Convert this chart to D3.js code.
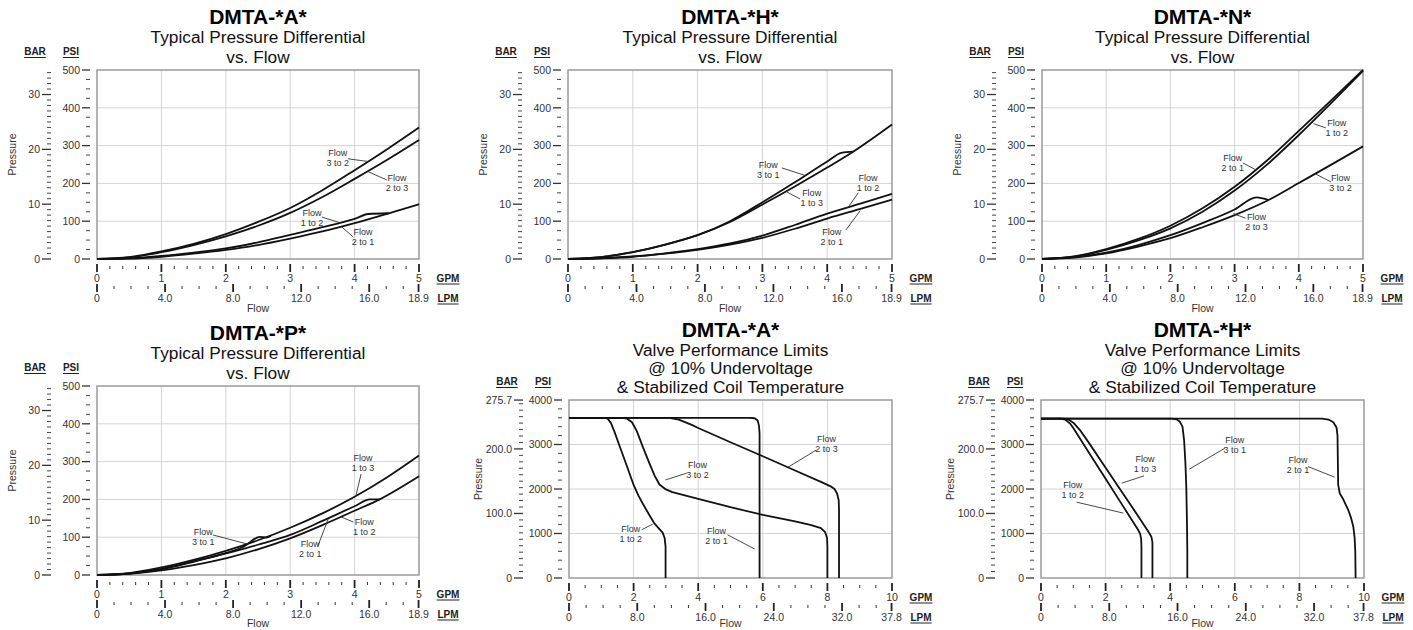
<!DOCTYPE html>
<html>
<head>
<meta charset="utf-8">
<script src="https://cdn.jsdelivr.net/npm/d3@7"></script>
<style>
  body { margin: 0; background: #fff; }
  svg text { font-family: "Liberation Sans", Arial, Helvetica, sans-serif; }
</style>
</head>
<body>
<svg id="chart" width="1413" height="630"></svg>
<script>

// unit conversions
var PSI_PER_BAR = 14.5038
var LPM_PER_GPM = 3.7854

// tick values / labels
var gpmTicks5 = [0, 1, 2, 3, 4, 5]
var lpmTicks5 = [0, 4, 8, 12, 16, 18.9]
var lpmLabels5 = ["0", "4.0", "8.0", "12.0", "16.0", "18.9"]
var psiTicks500 = [0, 100, 200, 300, 400, 500]
var barTicks500 = [0, 10, 20, 30]
var barLabels500 = ["0", "10", "20", "30"]

var gpmTicks10 = [0, 2, 4, 6, 8, 10]
var lpmTicks10 = [0, 8, 16, 24, 32, 37.8]
var lpmLabels10 = ["0", "8.0", "16.0", "24.0", "32.0", "37.8"]
var psiTicks4000 = [0, 1000, 2000, 3000, 4000]
var barTicks4000 = [0, 100, 200, 275.7]
var barLabels4000 = ["0", "100.0", "200.0", "275.7"]

// DMTA-*A*  pressure differential  [gpm, psi]
var a_3to2 = [[0,0],[0.5,5],[1,20],[1.5,40],[2,66],[2.5,98],[3,135],[3.5,182],[4,235],[4.5,290],[5,348]]
var a_2to3 = [[0,0],[0.5,4],[1,18],[1.5,37],[2,60],[2.5,88],[3,122],[3.5,164],[4,212],[4.5,262],[5,315]]
var a_1to2 = [[0,0],[0.5,2],[1,8],[1.5,17],[2,28],[2.5,44],[3,64],[3.5,84],[4,106],[4.21,119],[4.53,121]]
var a_2to1 = [[0,0],[0.5,1],[1,6],[1.5,14],[2,24],[2.5,37],[3,54],[3.5,73],[4,95],[4.53,121],[5,145]]

// DMTA-*H*  pressure differential
var h_3to1 = [[0,0],[0.5,5],[1,18],[1.5,38],[2,63],[2.5,100],[3,150],[3.5,203],[4,258],[4.22,281],[4.4,284]]
var h_1to3 = [[0,0],[0.5,5],[1,18],[1.5,38],[2,63],[2.5,98],[3,144],[3.5,192],[4,242],[4.4,284],[5,356]]
var h_1to2 = [[0,0],[0.5,2],[1,7],[1.5,15],[2,26],[2.5,41],[3,62],[3.5,90],[4,120],[4.5,146],[5,172]]
var h_2to1 = [[0,0],[0.5,2],[1,6],[1.5,14],[2,24],[2.5,38],[3,56],[3.5,80],[4,107],[4.5,132],[5,157]]

// DMTA-*N*  pressure differential
var n_2to1 = [[0,0],[0.5,7],[1,26],[1.5,53],[2,88],[2.5,134],[3,191],[3.5,260],[4,339],[4.5,419],[5,500]]
var n_1to2 = [[0,0],[0.5,6],[1,24],[1.5,49],[2,81],[2.5,125],[3,181],[3.5,249],[4,328],[4.5,412],[5,498]]
var n_2to3 = [[0,0],[0.5,5],[1,17],[1.5,37],[2,63],[2.5,95],[3,131],[3.34,163],[3.53,156]]
var n_3to2 = [[0,0],[0.5,4],[1,15],[1.5,33],[2,55],[2.5,84],[3,116],[3.53,156],[4,201],[4.5,249],[5,298]]

// DMTA-*P*  pressure differential
var p_1to3 = [[0,0],[0.5,5],[1,20],[1.5,40],[2,64],[2.5,92],[3,125],[3.5,163],[4,207],[4.5,258],[5,316]]
var p_3to1 = [[0,0],[0.5,4],[1,16],[1.5,36],[2,58],[2.27,74],[2.53,101],[2.63,99],[2.7,104]]
var p_2to1 = [[0,0],[0.5,4],[1,15],[1.5,35],[2,57],[2.5,80],[3,106],[3.5,143],[4,182],[4.24,200],[4.39,200]]
var p_1to2 = [[0,0],[0.5,3],[1,12],[1.5,26],[2,44],[2.5,68],[3,97],[3.5,132],[4,170],[4.39,200],[5,261]]

// DMTA-*A*  valve performance limits
var pa_1to2 = [[0,3600],[1.1,3600],[1.2,3580],[1.3,3480],[1.4,3300],[1.6,2900],[1.8,2500],[2.0,2090],[2.15,1850],[2.3,1650],[2.5,1400],[2.65,1220],[2.8,1100],[2.9,1020],[2.96,900],[2.99,700],[2.99,0]]
var pa_3to2 = [[0,3600],[1.65,3600],[1.8,3580],[1.95,3500],[2.1,3300],[2.3,2920],[2.5,2560],[2.65,2300],[2.8,2100],[3.0,1990],[3.2,1930],[4,1780],[5,1590],[6,1420],[7,1270],[7.5,1190],[7.8,1120],[7.93,1030],[7.99,900],[8.0,700],[8.0,0]]
var pa_2to1 = [[0,3600],[5.6,3600],[5.75,3590],[5.84,3540],[5.88,3430],[5.9,3250],[5.9,0]]
var pa_2to3 = [[0,3600],[3.1,3600],[3.4,3560],[3.8,3440],[4,3370],[5,3050],[6,2735],[7,2415],[7.8,2160],[8.1,2060],[8.22,2000],[8.3,1900],[8.35,1750],[8.36,1500],[8.36,0]]

// DMTA-*H*  valve performance limits
var ph_1to2 = [[0,3580],[0.6,3580],[0.75,3560],[0.9,3470],[1.0,3370],[1.5,2800],[2.0,2230],[2.5,1660],[3.0,1090],[3.07,990],[3.1,880],[3.11,700],[3.11,0]]
var ph_1to3 = [[0,3580],[0.7,3580],[0.85,3560],[1.0,3490],[1.2,3330],[1.5,3020],[2.0,2480],[2.5,1940],[3.0,1400],[3.35,1010],[3.42,920],[3.45,800],[3.45,0]]
var ph_3to1 = [[0,3580],[4.05,3580],[4.2,3565],[4.3,3510],[4.38,3400],[4.43,3100],[4.47,2600],[4.5,2000],[4.52,1200],[4.53,600],[4.53,0]]
var ph_2to1 = [[0,3580],[8.7,3580],[8.9,3560],[9.05,3500],[9.15,3380],[9.18,3200],[9.2,2100],[9.25,1900],[9.35,1780],[9.5,1550],[9.6,1350],[9.67,1150],[9.71,900],[9.73,600],[9.74,0]]


var svg = d3.select("#chart")

function underlined(sel, x, y, txt, size) {
    var t = sel.append("text")
        .attr("x", x).attr("y", y)
        .attr("text-anchor", "middle")
        .attr("font-size", size + "px")
        .attr("font-weight", "bold")
        .attr("fill", "#222")
        .text(txt)
    var w = t.node().getComputedTextLength()
    sel.append("line")
        .attr("x1", x - w / 2).attr("x2", x + w / 2)
        .attr("y1", y + 2.5).attr("y2", y + 2.5)
        .attr("stroke", "#222").attr("stroke-width", 1)
}

function drawPanel(p) {
    var g = svg.append("g")

    var x = d3.scaleLinear().domain([0, p.gpmMax]).range([p.left, p.right])
    var y = d3.scaleLinear().domain([0, p.psiMax]).range([p.bottom, p.top])
    var xl = d3.scaleLinear().domain([0, p.gpmMax * LPM_PER_GPM]).range([p.left, p.right])
    var yb = d3.scaleLinear().domain([0, p.psiMax / PSI_PER_BAR]).range([p.bottom, p.top])

    // grid
    g.selectAll(".vg").data(p.gpmTicks.slice(1, -1)).enter().append("line")
        .attr("x1", function(d) { return x(d) }).attr("x2", function(d) { return x(d) })
        .attr("y1", p.top).attr("y2", p.bottom)
        .attr("stroke", "#d4d4d4").attr("stroke-width", 1)
    g.selectAll(".hg").data(p.psiTicks.slice(1, -1)).enter().append("line")
        .attr("x1", p.left).attr("x2", p.right)
        .attr("y1", function(d) { return y(d) }).attr("y2", function(d) { return y(d) })
        .attr("stroke", "#d4d4d4").attr("stroke-width", 1)

    // frame
    g.append("rect")
        .attr("x", p.left).attr("y", p.top)
        .attr("width", p.right - p.left).attr("height", p.bottom - p.top)
        .attr("fill", "none").attr("stroke", "#9a9a9a").attr("stroke-width", 1.5)

    // curves
    var line = d3.line()
        .x(function(d) { return x(d[0]) })
        .y(function(d) { return y(d[1]) })
        .curve(p.smooth ? d3.curveMonotoneX : d3.curveLinear)
    p.series.forEach(function(s) {
        g.append("path")
            .datum(s)
            .attr("fill", "none")
            .attr("stroke", "#111")
            .attr("stroke-width", 1.8)
            .attr("stroke-linejoin", "round")
            .attr("d", line)
    })

    // PSI axis
    g.selectAll(".psiMinor").data(d3.range(0, p.psiMax + 1, p.psiMinor).filter(function(d) { return p.psiTicks.indexOf(d) < 0 }))
        .enter().append("line")
        .attr("x1", p.left - 11).attr("x2", p.left - 7)
        .attr("y1", function(d) { return y(d) }).attr("y2", function(d) { return y(d) })
        .attr("stroke", "#444").attr("stroke-width", 1)
    g.selectAll(".psiMajor").data(p.psiTicks).enter().append("line")
        .attr("x1", p.left - 15).attr("x2", p.left - 7)
        .attr("y1", function(d) { return y(d) }).attr("y2", function(d) { return y(d) })
        .attr("stroke", "#333").attr("stroke-width", 1.3)
    g.selectAll(".psiLab").data(p.psiTicks).enter().append("text")
        .attr("x", p.left - 17).attr("y", function(d) { return y(d) })
        .attr("dy", "0.36em").attr("text-anchor", "end")
        .attr("font-size", "10.5px").attr("fill", "#333")
        .text(function(d) { return d })

    // BAR axis
    var barMax = p.psiMax / PSI_PER_BAR
    g.selectAll(".barMinor").data(d3.range(0, barMax, p.barMinor).filter(function(d) { return p.barTicks.indexOf(d) < 0 }))
        .enter().append("line")
        .attr("x1", p.left - 50).attr("x2", p.left - 46)
        .attr("y1", function(d) { return yb(d) }).attr("y2", function(d) { return yb(d) })
        .attr("stroke", "#444").attr("stroke-width", 1)
    g.selectAll(".barMajor").data(p.barTicks).enter().append("line")
        .attr("x1", p.left - 55).attr("x2", p.left - 46)
        .attr("y1", function(d) { return yb(d) }).attr("y2", function(d) { return yb(d) })
        .attr("stroke", "#333").attr("stroke-width", 1.3)
    g.selectAll(".barLab").data(p.barTicks).enter().append("text")
        .attr("x", p.left - 57).attr("y", function(d) { return yb(d) })
        .attr("dy", "0.36em").attr("text-anchor", "end")
        .attr("font-size", "10.5px").attr("fill", "#333")
        .text(function(d, i) { return p.barLabels[i] })

    underlined(g, p.left - 62, p.top - 15, "BAR", 10)
    underlined(g, p.left - 26, p.top - 15, "PSI", 10)

    g.append("text")
        .attr("transform", "translate(" + (p.left - p.pressX) + "," + ((p.top + p.bottom) / 2 - 10) + ") rotate(-90)")
        .attr("text-anchor", "middle")
        .attr("font-size", "10.5px").attr("fill", "#333")
        .text("Pressure")

    // GPM axis
    var gy = p.bottom
    g.selectAll(".gpmMinor").data(d3.range(0, p.gpmMax, p.gpmMinor).filter(function(d) {
            return p.gpmTicks.indexOf(+d.toFixed(2)) < 0 }))
        .enter().append("line")
        .attr("x1", function(d) { return x(d) }).attr("x2", function(d) { return x(d) })
        .attr("y1", gy + 7).attr("y2", gy + 10)
        .attr("stroke", "#333").attr("stroke-width", 1)
    g.selectAll(".gpmMajor").data(p.gpmTicks).enter().append("line")
        .attr("x1", function(d) { return x(d) }).attr("x2", function(d) { return x(d) })
        .attr("y1", gy + 5).attr("y2", gy + 13)
        .attr("stroke", "#222").attr("stroke-width", 1.8)
    g.selectAll(".gpmLab").data(p.gpmTicks).enter().append("text")
        .attr("x", function(d) { return x(d) }).attr("y", gy + 22.5)
        .attr("text-anchor", "middle")
        .attr("font-size", "10.5px").attr("fill", "#333")
        .text(function(d) { return d })

    // LPM axis
    var lpmMax = p.gpmMax * LPM_PER_GPM
    g.selectAll(".lpmMinor").data(d3.range(p.lpmMinor, lpmMax - 0.5, p.lpmMinor).filter(function(d) {
            return p.lpmTicks.indexOf(d) < 0 }))
        .enter().append("line")
        .attr("x1", function(d) { return xl(d) }).attr("x2", function(d) { return xl(d) })
        .attr("y1", gy + 27).attr("y2", gy + 30)
        .attr("stroke", "#333").attr("stroke-width", 1)
    g.selectAll(".lpmMajor").data(p.lpmTicks).enter().append("line")
        .attr("x1", function(d) { return xl(d) }).attr("x2", function(d) { return xl(d) })
        .attr("y1", gy + 25).attr("y2", gy + 33)
        .attr("stroke", "#222").attr("stroke-width", 1.8)
    g.selectAll(".lpmLab").data(p.lpmTicks).enter().append("text")
        .attr("x", function(d) { return xl(d) }).attr("y", gy + 42.5)
        .attr("text-anchor", "middle")
        .attr("font-size", "10.5px").attr("fill", "#333")
        .text(function(d, i) { return p.lpmLabels[i] })

    underlined(g, p.right + 29, gy + 22.5, "GPM", 10)
    underlined(g, p.right + 29, gy + 42.5, "LPM", 10)

    g.append("text")
        .attr("x", (p.left + p.right) / 2).attr("y", Math.min(gy + 53, 627))
        .attr("text-anchor", "middle")
        .attr("font-size", "10.5px").attr("fill", "#333")
        .text("Flow")

    // titles
    var cx = (p.left + p.right) / 2
    var n = p.subtitle.length
    p.subtitle.forEach(function(t, i) {
        g.append("text")
            .attr("x", cx).attr("y", p.top - 7.5 - (n - 1 - i) * p.lineGap)
            .attr("text-anchor", "middle")
            .attr("font-size", "17.3px").attr("fill", "#111")
            .text(t)
    })
    g.append("text")
        .attr("x", cx).attr("y", p.top - 7.5 - (n - 1) * p.lineGap - 18.5)
        .attr("text-anchor", "middle")
        .attr("font-size", "21px").attr("font-weight", "bold").attr("fill", "#000")
        .text(p.title)

    // flow labels with pointers
    p.labels.forEach(function(l) {
        g.append("line")
            .attr("x1", x(l.from[0])).attr("y1", y(l.from[1]))
            .attr("x2", x(l.to[0])).attr("y2", y(l.to[1]))
            .attr("stroke", "#333").attr("stroke-width", 0.9)
        g.append("text")
            .attr("x", x(l.at[0])).attr("y", y(l.at[1]) + 3)
            .attr("text-anchor", "middle")
            .attr("font-size", "9px").attr("fill", "#333")
            .text("Flow")
        g.append("text")
            .attr("x", x(l.at[0])).attr("y", y(l.at[1]) + 13)
            .attr("text-anchor", "middle")
            .attr("font-size", "9px").attr("fill", "#333")
            .text(l.name)
    })
}

var typical = ["Typical Pressure Differential", "vs. Flow"]
var limits = ["Valve Performance Limits", "@ 10% Undervoltage", "& Stabilized Coil Temperature"]

var smallBase = {
    gpmMax: 5, psiMax: 500, gpmTicks: gpmTicks5, lpmTicks: lpmTicks5, lpmLabels: lpmLabels5,
    psiTicks: psiTicks500, barTicks: barTicks500, barLabels: barLabels500,
    psiMinor: 25, barMinor: 1, gpmMinor: 0.2, lpmMinor: 1,
    pressX: 81, lineGap: 20, smooth: true, subtitle: typical
}
var bigBase = {
    gpmMax: 10, psiMax: 4000, gpmTicks: gpmTicks10, lpmTicks: lpmTicks10, lpmLabels: lpmLabels10,
    psiTicks: psiTicks4000, barTicks: barTicks4000, barLabels: barLabels4000,
    psiMinor: 200, barMinor: 10, gpmMinor: 0.5, lpmMinor: 2,
    pressX: 87, lineGap: 18.3, smooth: false, subtitle: limits
}

var panels = [
    Object.assign({}, smallBase, {
        title: "DMTA-*A*", left: 97, right: 419, top: 70, bottom: 259,
        series: [a_3to2, a_2to3, a_1to2, a_2to1],
        labels: [
            {name: "3 to 2", at: [3.74, 280], from: [3.90, 265], to: [4.21, 258]},
            {name: "2 to 3", at: [4.66, 214], from: [4.50, 209], to: [4.21, 231]},
            {name: "1 to 2", at: [3.34, 122], from: [3.49, 111], to: [3.77, 96]},
            {name: "2 to 1", at: [4.13, 71], from: [3.98, 58], to: [3.80, 85]}
        ]
    }),
    Object.assign({}, smallBase, {
        title: "DMTA-*H*", left: 568, right: 892, top: 70, bottom: 259,
        series: [h_3to1, h_1to3, h_1to2, h_2to1],
        labels: [
            {name: "3 to 1", at: [3.09, 249], from: [3.30, 241], to: [3.66, 221]},
            {name: "1 to 3", at: [3.76, 175], from: [3.58, 159], to: [3.37, 178]},
            {name: "1 to 2", at: [4.63, 214], from: [4.48, 175], to: [4.32, 136]},
            {name: "2 to 1", at: [4.07, 71], from: [4.29, 77], to: [4.51, 128]}
        ]
    }),
    Object.assign({}, smallBase, {
        title: "DMTA-*N*", left: 1042, right: 1363, top: 70, bottom: 259,
        series: [n_2to1, n_1to2, n_2to3, n_3to2],
        labels: [
            {name: "1 to 2", at: [4.59, 360], from: [4.42, 347], to: [4.23, 358]},
            {name: "2 to 1", at: [2.97, 267], from: [3.13, 254], to: [3.33, 236]},
            {name: "3 to 2", at: [4.65, 214], from: [4.50, 204], to: [4.26, 225]},
            {name: "2 to 3", at: [3.34, 111], from: [3.17, 108], to: [2.98, 120]}
        ]
    }),
    Object.assign({}, smallBase, {
        title: "DMTA-*P*", left: 97, right: 419, top: 386, bottom: 575,
        series: [p_1to3, p_3to1, p_2to1, p_1to2],
        labels: [
            {name: "1 to 3", at: [4.13, 310], from: [4.10, 267], to: [4.02, 209]},
            {name: "3 to 1", at: [1.65, 114], from: [1.80, 106], to: [2.33, 82]},
            {name: "2 to 1", at: [3.31, 82], from: [3.43, 77], to: [3.59, 148]},
            {name: "1 to 2", at: [4.15, 140], from: [3.98, 140], to: [3.80, 153]}
        ]
    }),
    Object.assign({}, bigBase, {
        title: "DMTA-*A*", left: 569, right: 892, top: 400, bottom: 578,
        series: [pa_1to2, pa_3to2, pa_2to1, pa_2to3],
        labels: [
            {name: "2 to 3", at: [7.97, 3125], from: [7.66, 2878], to: [6.78, 2490]},
            {name: "3 to 2", at: [3.98, 2542], from: [3.64, 2355], to: [2.99, 2205]},
            {name: "1 to 2", at: [1.91, 1099], from: [2.25, 1083], to: [2.59, 1211]},
            {name: "2 to 1", at: [4.57, 1061], from: [4.91, 971], to: [5.75, 650]}
        ]
    }),
    Object.assign({}, bigBase, {
        title: "DMTA-*H*", left: 1041, right: 1364, top: 400, bottom: 578,
        series: [ph_1to2, ph_1to3, ph_3to1, ph_2to1],
        labels: [
            {name: "3 to 1", at: [6.0, 3096], from: [5.69, 2916], to: [4.59, 2445]},
            {name: "1 to 3", at: [3.22, 2669], from: [3.19, 2295], to: [2.50, 2131]},
            {name: "2 to 1", at: [7.96, 2660], from: [8.27, 2503], to: [9.09, 2266]},
            {name: "1 to 2", at: [0.98, 2093], from: [1.10, 1705], to: [2.55, 1458]}
        ]
    })
]

panels.forEach(drawPanel)

</script>
</body>
</html>
